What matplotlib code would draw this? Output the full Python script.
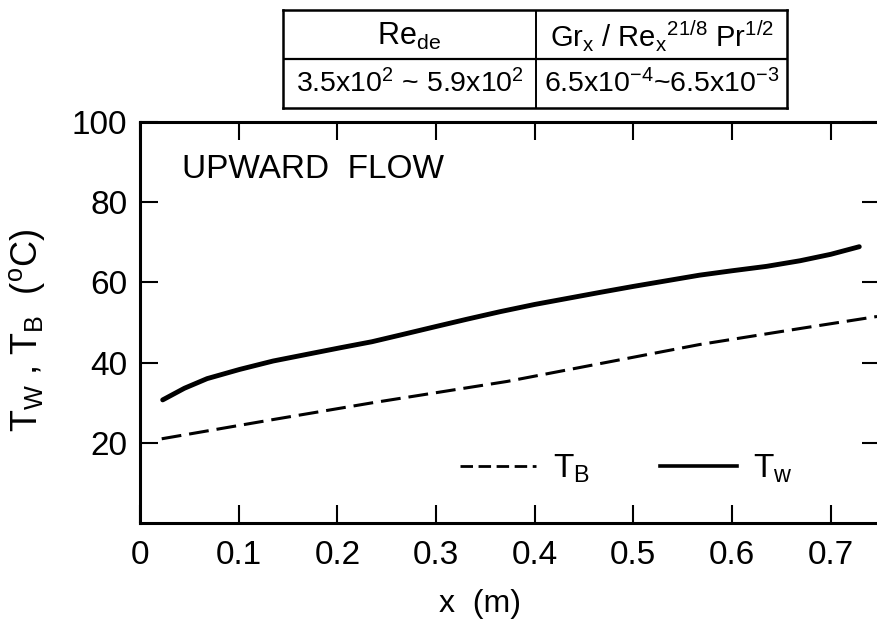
import matplotlib
matplotlib.use("Agg")
import matplotlib.pyplot as plt
from matplotlib.lines import Line2D

plt.rcParams['font.family'] = ['Liberation Sans', 'DejaVu Sans']
plt.rcParams['mathtext.fontset'] = 'custom'
plt.rcParams['mathtext.rm'] = 'Liberation Sans'
plt.rcParams['mathtext.it'] = 'Liberation Sans'

# Wall temperature Tw along the tube (m, degC)
x_tw = [0.023, 0.045, 0.068, 0.101, 0.135, 0.170, 0.203, 0.235, 0.266, 0.300,
        0.331, 0.365, 0.400, 0.466, 0.500, 0.567, 0.600, 0.635, 0.669, 0.700,
        0.729]
t_w = [30.7, 33.6, 36.0, 38.3, 40.4, 42.1, 43.7, 45.2, 47.0, 49.0,
       50.8, 52.7, 54.5, 57.5, 59.0, 61.8, 62.9, 64.0, 65.4, 67.0,
       68.9]

# Bulk temperature TB along the tube
x_tb = [0.022, 0.135, 0.236, 0.372, 0.567, 0.669, 0.747]
t_b = [21.0, 25.8, 30.0, 35.3, 44.5, 48.5, 51.5]

x_ticks = [0, 0.1, 0.2, 0.3, 0.4, 0.5, 0.6, 0.7]
x_tick_labels = ["0", "0.1", "0.2", "0.3", "0.4", "0.5", "0.6", "0.7"]
y_ticks = [20, 40, 60, 80, 100]
y_tick_labels = ["20", "40", "60", "80", "100"]

table_header = [r"Re$_{\mathrm{de}}$",
                r"Gr$_{\mathrm{x}}$ / Re$_{\mathrm{x}}$$^{21/8}$ Pr$^{1/2}$"]
table_values = [r"3.5x10$^2$ ~ 5.9x10$^2$",
                r"6.5x10$^{-4}$~6.5x10$^{-3}$"]

W, H = 878, 629
fig = plt.figure(figsize=(W / 100, H / 100), dpi=100)
ax = fig.add_axes([140 / W, 1 - 523 / H, 740 / W, 401 / H])

ax.plot(x_tw, t_w, color='black', lw=3.5, solid_capstyle='round',
        solid_joinstyle='round')
ax.plot(x_tb, t_b, color='black', lw=2.2, dashes=(6.5, 2.6))

ax.set_xlim(0, 0.75)
ax.set_ylim(0, 100)
ax.set_xticks(x_ticks)
ax.set_xticklabels(x_tick_labels)
ax.set_yticks(y_ticks)
ax.set_yticklabels(y_tick_labels)
ax.tick_params(direction='in', length=13, width=1.5, labelsize=24,
               top=True, right=True)
ax.tick_params(axis='x', pad=12)
ax.tick_params(axis='y', pad=9)
for s in ax.spines.values():
    s.set_linewidth(2.2)

ax.text(0.057, 0.86, "UPWARD  FLOW", transform=ax.transAxes,
        fontsize=24, va='baseline', ha='left')

ax.set_xlabel(r"x  (m)", fontsize=23)
ax.xaxis.set_label_coords(0.459, -0.165)
ax.set_ylabel(r"T$_{\mathrm{W}}$ , T$_{\mathrm{B}}$  ($^{\mathrm{o}}$C)", fontsize=26)
ax.yaxis.set_label_coords(-0.126, 0.479)

handles = [Line2D([], [], color='black', lw=2.0, dashes=(4.5, 2.0)),
           Line2D([], [], color='black', lw=2.6)]
ax.legend(handles, [r"T$_{\mathrm{B}}$", r"T$_{\mathrm{w}}$"], ncol=2,
          frameon=False, fontsize=24, handlelength=2.3, handletextpad=0.5,
          columnspacing=2.1, loc='center', bbox_to_anchor=(0.657, 0.135))

# Parameter table above the plot
tab = fig.add_axes([283 / W, 1 - 108 / H, 504 / W, 98 / H])
tab.set_xticks([])
tab.set_yticks([])
for s in tab.spines.values():
    s.set_linewidth(1.8)
tab.axhline(0.5, color='black', lw=1.6)
tab.axvline(0.502, color='black', lw=1.4)
tab.text(0.251, 0.73, table_header[0], ha='center', va='center', fontsize=22)
tab.text(0.751, 0.73, table_header[1], ha='center', va='center', fontsize=21)
tab.text(0.251, 0.25, table_values[0], ha='center', va='center', fontsize=20.5)
tab.text(0.751, 0.25, table_values[1], ha='center', va='center', fontsize=20.5)

fig.savefig("out.png", dpi=100)
